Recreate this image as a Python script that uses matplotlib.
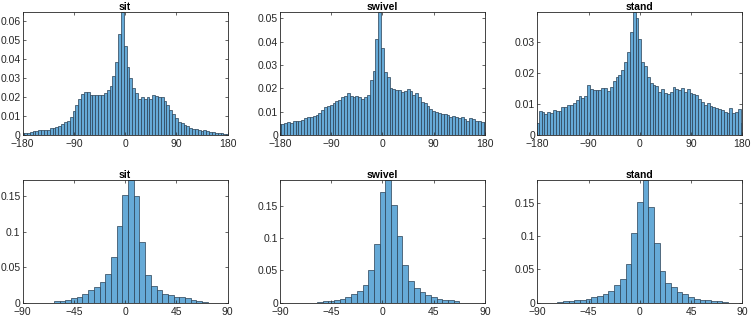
import numpy as np
import matplotlib
matplotlib.use("Agg")
import matplotlib.pyplot as plt
from matplotlib.ticker import FuncFormatter

plt.rcParams['font.family'] = ['Liberation Sans', 'DejaVu Sans']

titles = ["sit", "swivel", "stand"]

# top row: 5 degree bins centred on -180..180
top_sit = [0.0008, 0.001, 0.0012, 0.0015, 0.002, 0.0022, 0.0024, 0.0025, 0.0027, 0.0028,
           0.0035, 0.0037, 0.004, 0.0047, 0.006, 0.0068, 0.0075, 0.0093, 0.0128, 0.0158,
           0.019, 0.0216, 0.0226, 0.0226, 0.021, 0.021, 0.021, 0.021, 0.021, 0.022,
           0.0237, 0.026, 0.031, 0.0386, 0.0535, 0.065,
           0.047, 0.036, 0.030, 0.025, 0.022, 0.019, 0.020, 0.019, 0.020, 0.019,
           0.021, 0.0205, 0.020, 0.020, 0.018, 0.016, 0.013, 0.011, 0.009, 0.0067,
           0.0065, 0.0055, 0.0045, 0.0037, 0.003, 0.0033, 0.0025, 0.002, 0.0024, 0.002,
           0.0018, 0.0015, 0.0012, 0.001, 0.0008, 0.0006, 0.0004]
top_swivel = [0.0047, 0.0048, 0.005, 0.0054, 0.005, 0.0059, 0.0061, 0.006, 0.0065, 0.0071,
              0.0076, 0.0079, 0.0082, 0.0086, 0.0096, 0.0107, 0.0118, 0.0124, 0.0129, 0.0139,
              0.0147, 0.015, 0.0161, 0.0167, 0.0179, 0.0167, 0.0164, 0.0167, 0.0165, 0.0154,
              0.0164, 0.0171, 0.0236, 0.0274, 0.041, 0.0527,
              0.0371, 0.0271, 0.025, 0.020, 0.0196, 0.0193, 0.0193, 0.0186, 0.019, 0.0196,
              0.019, 0.0171, 0.0179, 0.0161, 0.0143, 0.0136, 0.0124, 0.011, 0.0104, 0.010,
              0.0093, 0.009, 0.009, 0.0086, 0.0079, 0.0081, 0.0076, 0.0071, 0.0076, 0.0067,
              0.0061, 0.0071, 0.0067, 0.0061, 0.006, 0.0057, 0.0055]
top_stand = [0.004, 0.0077, 0.0076, 0.0067, 0.0076, 0.007, 0.0081, 0.0079, 0.0079, 0.009,
             0.0092, 0.0097, 0.0097, 0.0105, 0.0113, 0.0126, 0.0119, 0.0127, 0.0162, 0.0148,
             0.0146, 0.0146, 0.0146, 0.0151, 0.0151, 0.0143, 0.0154, 0.0175, 0.0187, 0.0194,
             0.021, 0.0237, 0.027, 0.0334, 0.0398, 0.038,
             0.031, 0.0237, 0.0223, 0.0187, 0.0167, 0.0162, 0.0159, 0.014, 0.0148, 0.0135,
             0.0133, 0.014, 0.0154, 0.0148, 0.0146, 0.0151, 0.014, 0.0148, 0.0135, 0.0133,
             0.0129, 0.0115, 0.0108, 0.0097, 0.0102, 0.0094, 0.009, 0.0086, 0.0083, 0.0081,
             0.0076, 0.0072, 0.0086, 0.0072, 0.0076, 0.0083, 0.004]

# bottom row: 5 degree bins centred on -90..90
bot_sit = [0, 0, 0, 0, 0, 0,
           0.002, 0.003, 0.004, 0.006, 0.008, 0.012, 0.018, 0.022, 0.029, 0.041,
           0.064, 0.108, 0.152, 0.1735, 0.150, 0.085, 0.039, 0.024, 0.018, 0.012,
           0.011, 0.008, 0.008, 0.007, 0.004, 0.003, 0.0015,
           0, 0, 0, 0]
bot_swivel = [0, 0, 0, 0, 0, 0, 0,
              0.0015, 0.002, 0.003, 0.0046, 0.0057, 0.009, 0.013, 0.018, 0.028, 0.0505,
              0.090, 0.1706, 0.190, 0.1505, 0.1026, 0.058, 0.033, 0.023, 0.016, 0.012,
              0.009, 0.0057, 0.0046, 0.004, 0.002,
              0, 0, 0, 0, 0]
bot_stand = [0, 0, 0, 0,
             0.0015, 0.002, 0.0025, 0.0035, 0.0045, 0.0055, 0.008, 0.0095, 0.0125, 0.0175,
             0.026, 0.0355, 0.058, 0.1045, 0.1515, 0.1845, 0.143, 0.0895, 0.0475, 0.029,
             0.023, 0.0165, 0.0125, 0.0085, 0.0055, 0.004, 0.0035, 0.003, 0.002, 0.0015,
             0, 0, 0]

top_centers = np.arange(-180, 181, 5)
bot_centers = np.arange(-90, 91, 5)
top_xticks = [-180, -90, 0, 90, 180]
bot_xticks = [-90, -45, 0, 45, 90]
top_yticks = [[0, 0.01, 0.02, 0.03, 0.04, 0.05, 0.06],
              [0, 0.01, 0.02, 0.03, 0.04, 0.05],
              [0, 0.01, 0.02, 0.03]]
bot_yticks = [0, 0.05, 0.1, 0.15]

face = (0.4, 0.668, 0.845)
edge = (0.16, 0.25, 0.33)
axcol = '#262626'

fig = plt.figure(figsize=(7.51, 3.17), dpi=100)

lefts = [0.0302, 0.3728, 0.7154]
w, h = 0.273, 0.388
fmt = FuncFormatter(lambda v, p: "%g" % round(v, 4))


def draw(ax, centers, vals, xticks, yticks, title, xlim):
    vals = np.asarray(vals)
    m = vals > 0
    ax.bar(centers[m], vals[m], width=5, color=face, edgecolor=edge, linewidth=0.5)
    ax.set_xlim(*xlim)
    ax.set_ylim(0, vals.max())
    ax.set_xticks(xticks)
    ax.set_yticks(yticks)
    ax.yaxis.set_major_formatter(fmt)
    ax.tick_params(direction='in', top=True, right=True, length=2.5, width=0.5,
                   labelsize=7.5, colors=axcol)
    ax.tick_params(axis='x', pad=3)
    ax.tick_params(axis='y', pad=1.5)
    for s in ax.spines.values():
        s.set_linewidth(0.6)
        s.set_color(axcol)
    ax.set_title(title, fontsize=7.5, fontweight='bold', pad=1.5, color='black')


tops = [top_sit, top_swivel, top_stand]
bots = [bot_sit, bot_swivel, bot_stand]
for i in range(3):
    assert len(tops[i]) == len(top_centers)
    assert len(bots[i]) == len(bot_centers)
    ax = fig.add_axes([lefts[i], 0.5741, w, h])
    draw(ax, top_centers, tops[i], top_xticks, top_yticks[i], titles[i], (-180, 180))
    ax = fig.add_axes([lefts[i], 0.045, w, h])
    draw(ax, bot_centers, bots[i], bot_xticks, bot_yticks, titles[i], (-90, 90))

fig.savefig("out.png", dpi=100)
